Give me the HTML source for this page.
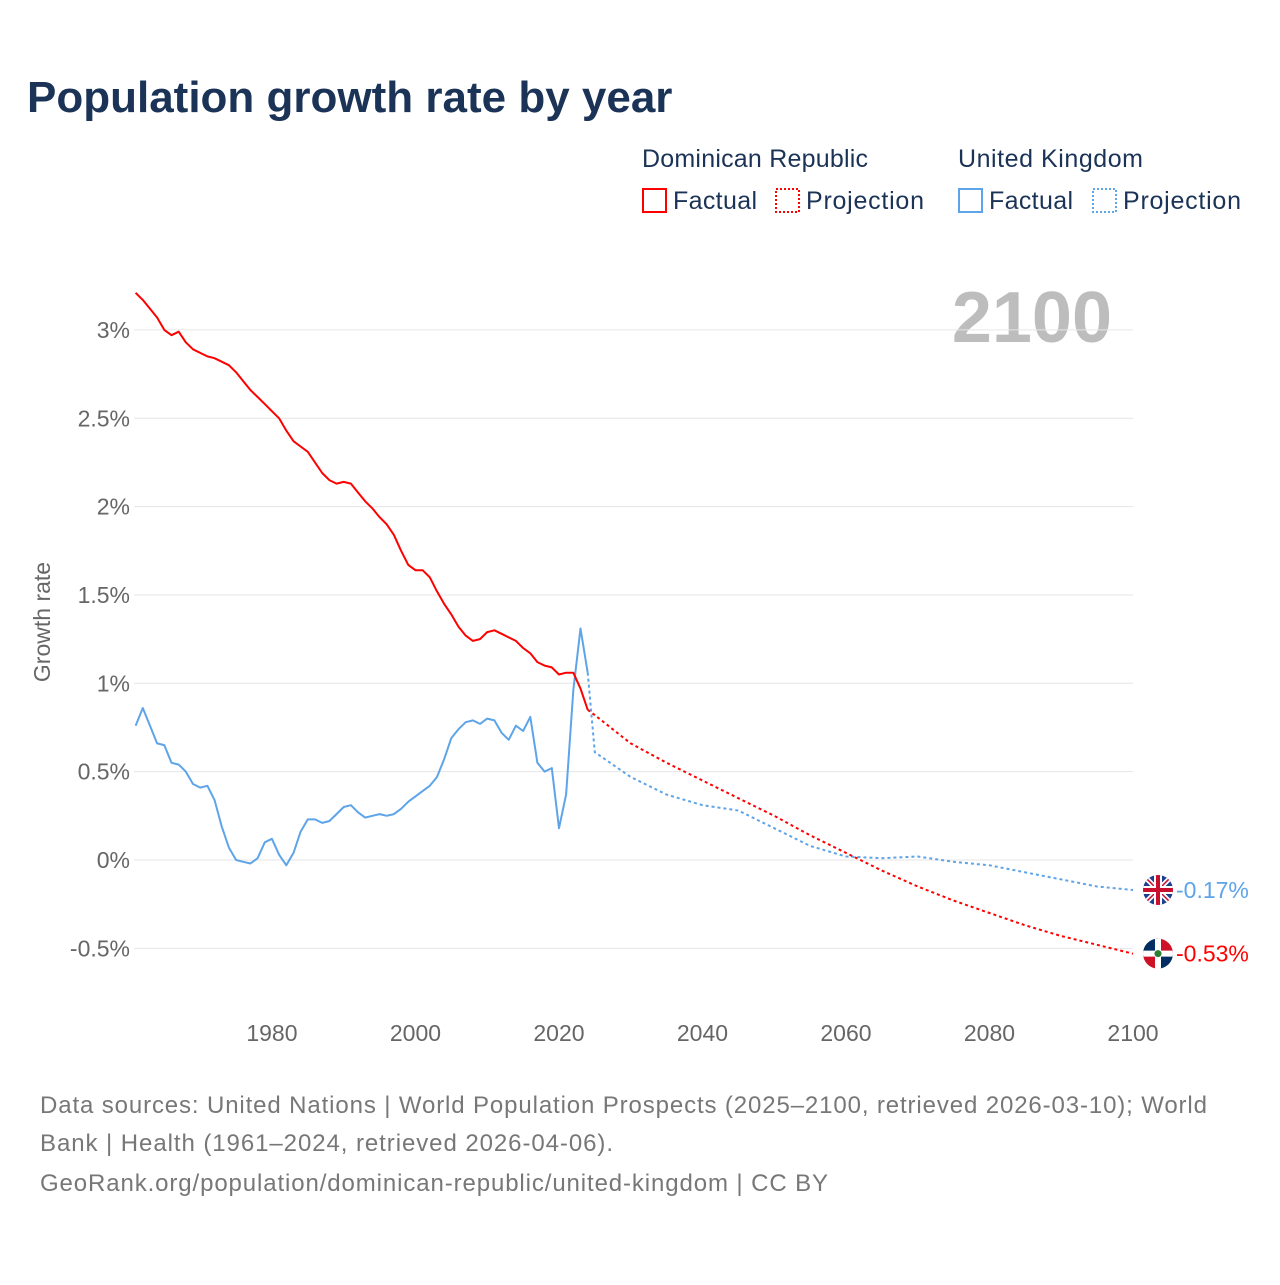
<!DOCTYPE html>
<html><head><meta charset="utf-8"><style>
body{margin:0;background:#fff;width:1280px;height:1280px;overflow:hidden;font-family:"Liberation Sans",sans-serif}
svg text{font-family:"Liberation Sans",sans-serif}
</style></head><body>
<svg id="chart" width="1280" height="1280">
<text x="27" y="112" font-size="44" font-weight="bold" fill="#1b3356">Population growth rate by year</text>
<g>
<text x="642" y="167" font-size="25" fill="#1b3356" textLength="226">Dominican Republic</text>
<text x="958" y="167" font-size="25" fill="#1b3356" textLength="185">United Kingdom</text>
<g><rect x="643" y="189" width="23" height="23" fill="none" stroke="red" stroke-width="2"/><text x="673" y="209" font-size="25" fill="#1b3356" textLength="84">Factual</text></g>
<g><rect x="776" y="189" width="23" height="23" fill="none" stroke="red" stroke-width="2" stroke-dasharray="2,2"/><text x="806" y="209" font-size="25" fill="#1b3356" textLength="118">Projection</text></g>
<g><rect x="959" y="189" width="23" height="23" fill="none" stroke="#5ea4e8" stroke-width="2"/><text x="989" y="209" font-size="25" fill="#1b3356" textLength="84">Factual</text></g>
<g><rect x="1093" y="189" width="23" height="23" fill="none" stroke="#5ea4e8" stroke-width="2" stroke-dasharray="2,2"/><text x="1123" y="209" font-size="25" fill="#1b3356" textLength="118">Projection</text></g>
</g>
<text x="1112" y="342" font-size="72" font-weight="bold" fill="#bdbdbd" text-anchor="end">2100</text>
<g id="grid"></g><g id="axes"></g><g id="series"></g>
<text transform="translate(50,622) rotate(-90)" font-size="23" fill="#666" text-anchor="middle">Growth rate</text>
<g>
<text x="40" y="1113" fill="#777" font-size="24" textLength="1167">Data sources: United Nations | World Population Prospects (2025–2100, retrieved 2026-03-10); World</text>
<text x="40" y="1151" fill="#777" font-size="24" textLength="573">Bank | Health (1961–2024, retrieved 2026-04-06).</text>
<text x="40" y="1191" fill="#777" font-size="24" textLength="788">GeoRank.org/population/dominican-republic/united-kingdom | CC BY</text>
</g>
</svg>
<script>
const yTicks=[-0.5,0,0.5,1,1.5,2,2.5,3];
const yTickLabels=["-0.5%","0%","0.5%","1%","1.5%","2%","2.5%","3%"];
const xTicks=[1980,2000,2020,2040,2060,2080,2100];
const factYears=[];for(let y=1961;y<=2024;y++)factYears.push(y);
const drFactual=[3.21,3.17,3.12,3.07,3.00,2.97,2.99,2.93,2.89,2.87,2.85,2.84,2.82,2.80,2.76,2.71,2.66,2.62,2.58,2.54,2.50,2.43,2.37,2.34,2.31,2.25,2.19,2.15,2.13,2.14,2.13,2.08,2.03,1.99,1.94,1.90,1.84,1.75,1.67,1.64,1.64,1.60,1.52,1.45,1.39,1.32,1.27,1.24,1.25,1.29,1.30,1.28,1.26,1.24,1.20,1.17,1.12,1.10,1.09,1.05,1.06,1.06,0.97,0.90,0.85].slice(0,63).concat([0.85]);
const ukFactual=[0.76,0.86,0.76,0.66,0.65,0.55,0.54,0.50,0.43,0.41,0.42,0.34,0.19,0.07,0.00,-0.01,-0.02,0.01,0.10,0.12,0.03,-0.03,0.04,0.16,0.23,0.23,0.21,0.22,0.26,0.30,0.31,0.27,0.24,0.25,0.26,0.25,0.26,0.29,0.33,0.36,0.39,0.42,0.47,0.57,0.69,0.74,0.78,0.79,0.77,0.80,0.79,0.72,0.68,0.76,0.73,0.81,0.55,0.50,0.52,0.18,0.37,0.96,1.31,1.06];
const projYears=[2024,2025,2030,2035,2040,2045,2050,2055,2060,2065,2070,2075,2080,2085,2090,2095,2100];
const drProj=[0.85,0.82,0.66,0.55,0.45,0.35,0.25,0.14,0.04,-0.06,-0.15,-0.23,-0.30,-0.37,-0.43,-0.48,-0.53];
const ukProj=[1.06,0.61,0.47,0.37,0.31,0.28,0.18,0.08,0.02,0.01,0.02,-0.01,-0.03,-0.07,-0.11,-0.15,-0.17];
const NS="http://www.w3.org/2000/svg";
const X=y=>135.6+(y-1961)*(1133-135.6)/(2100-1961);
const Y=v=>860-v*176.7;
function el(t,a,p){const e=document.createElementNS(NS,t);for(const k in a)e.setAttribute(k,a[k]);p.appendChild(e);return e;}
const grid=document.getElementById('grid'),axes=document.getElementById('axes'),ser=document.getElementById('series');
yTicks.forEach((v,i)=>{
 const l=el('line',{x1:134,x2:1133,y1:Y(v),y2:Y(v),stroke:'#e6e6e6','stroke-width':1},grid);
 
 
 const t=el('text',{x:130,y:Y(v)+8,'font-size':23,fill:'#666','text-anchor':'end'},axes);t.textContent=yTickLabels[i];
 
 
});
xTicks.forEach(x=>{
 const t=el('text',{x:X(x),y:1041,'font-size':23,fill:'#666','text-anchor':'middle'},axes);t.textContent=x;
 
 
});
function line(xs,vs,color,dash,name){
 const d=xs.map((x,i)=>(i?'L':'M')+X(x).toFixed(1)+','+Y(vs[i]).toFixed(1)).join('');
 const p=el('path',{d:d,fill:'none',stroke:color,'stroke-width':2,'stroke-dasharray':dash||'none','stroke-linejoin':'round'},ser);
 
 
}
const RED='#ff0000',BLUE='#5ea4e8';
line(projYears,ukProj,BLUE,'3,3','uk-projection-line');
line(projYears,drProj,RED,'3,3','dr-projection-line');
line(factYears,ukFactual,BLUE,null,'uk-factual-line');
line(factYears,drFactual,RED,null,'dr-factual-line');
function flag(v,uk,color,name){
 const cx=1158,cy=Y(v);
 const g=el('g',{},ser);
 
 
 const id='c'+name;
 const cp=el('clipPath',{id:id},g);el('circle',{cx:cx,cy:cy,r:15},cp);
 const f=el('g',{'clip-path':'url(#'+id+')'},g);
 if(uk){
  el('rect',{x:cx-15,y:cy-15,width:30,height:30,fill:'#1d3f8f'},f);
  el('path',{d:`M${cx-15},${cy-15}L${cx+15},${cy+15}M${cx+15},${cy-15}L${cx-15},${cy+15}`,stroke:'#fff','stroke-width':5},f);
  el('path',{d:`M${cx-15},${cy-15}L${cx+15},${cy+15}M${cx+15},${cy-15}L${cx-15},${cy+15}`,stroke:'#c8102e','stroke-width':1.5},f);
  el('path',{d:`M${cx},${cy-15}V${cy+15}M${cx-15},${cy}H${cx+15}`,stroke:'#fff','stroke-width':8},f);
  el('path',{d:`M${cx},${cy-15}V${cy+15}M${cx-15},${cy}H${cx+15}`,stroke:'#c8102e','stroke-width':4},f);
 }else{
  el('rect',{x:cx-15,y:cy-15,width:15,height:15,fill:'#002d62'},f);
  el('rect',{x:cx,y:cy-15,width:15,height:15,fill:'#ce1126'},f);
  el('rect',{x:cx-15,y:cy,width:15,height:15,fill:'#ce1126'},f);
  el('rect',{x:cx,y:cy,width:15,height:15,fill:'#002d62'},f);
  el('path',{d:`M${cx},${cy-15}V${cy+15}M${cx-15},${cy}H${cx+15}`,stroke:'#fff','stroke-width':6},f);
  el('circle',{cx:cx,cy:cy,r:3.5,fill:'#2e7d32'},f);
 }
 const t=el('text',{x:1176,y:cy+8,'font-size':23,fill:color},g);t.textContent=v.toFixed(2)+'%';
}
flag(ukProj[ukProj.length-1],true,BLUE,'uk-end-label');
flag(drProj[drProj.length-1],false,RED,'dr-end-label');
</script>
</body></html>
